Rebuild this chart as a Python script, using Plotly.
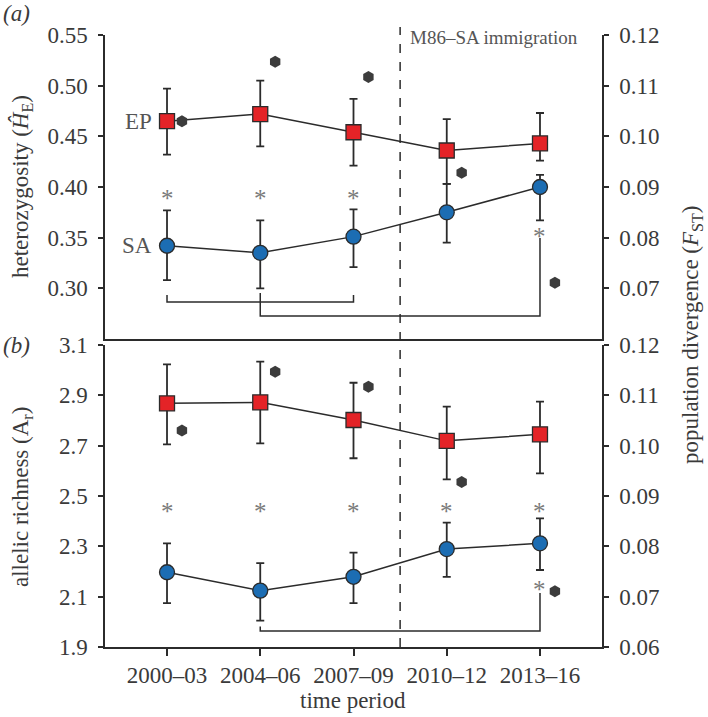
import plotly.graph_objects as go

periods = ["2000–03", "2004–06", "2007–09", "2010–12", "2013–16"]

# (a) heterozygosity
he_ep = [0.465, 0.472, 0.454, 0.436, 0.443]
he_ep_hi = [0.497, 0.505, 0.487, 0.467, 0.473]
he_ep_lo = [0.432, 0.440, 0.421, 0.403, 0.426]
he_sa = [0.342, 0.335, 0.351, 0.375, 0.400]
he_sa_hi = [0.377, 0.367, 0.378, 0.403, 0.412]
he_sa_lo = [0.308, 0.300, 0.321, 0.345, 0.367]

# (b) allelic richness
ar_ep = [2.868, 2.872, 2.802, 2.719, 2.745]
ar_ep_hi = [3.023, 3.034, 2.950, 2.855, 2.875]
ar_ep_lo = [2.705, 2.709, 2.650, 2.566, 2.590]
ar_sa = [2.197, 2.124, 2.179, 2.289, 2.312]
ar_sa_hi = [2.312, 2.233, 2.275, 2.394, 2.411]
ar_sa_lo = [2.074, 2.005, 2.074, 2.179, 2.206]

# population divergence (FST), same in both panels
fst = [0.1030, 0.1147, 0.1117, 0.0928, 0.0711]

# significance asterisks: (period index, y value)
stars_a = [(0, 0.394), (1, 0.394), (2, 0.394), (4, 0.356)]
stars_b = [(0, 2.458), (1, 2.458), (2, 2.458), (3, 2.458), (4, 2.458), (4, 2.150)]

# brackets: (start idx, end idx, y start-end, y bar, y end-end)
brackets_a = [(0, 2, 0.2934, 0.2865, 0.2934), (1, 4, 0.2954, 0.2727, 0.3497)]
brackets_b = [(1, 4, 1.981, 1.964, 2.115)]

immigration_x = 2.5
hex_offset = 0.16

FONT = "Liberation Serif, Times New Roman, serif"
RED = "#e42327"
BLUE = "#1c6db3"
DARK = "#2b2b2b"
TXT = "#3a3a3a"
FS = 23

xs = list(range(len(periods)))

def err(v, hi, lo):
    return ([h - x for h, x in zip(hi, v)], [x - l for l, x in zip(lo, v)])

fig = go.Figure()

def add_panel(xa, ya, ya2, ep, ep_hi, ep_lo, sa, sa_hi, sa_lo, brackets):
    for vals, hi, lo, sym, col in [(ep, ep_hi, ep_lo, "square", RED), (sa, sa_hi, sa_lo, "circle", BLUE)]:
        p, m = err(vals, hi, lo)
        fig.add_trace(go.Scatter(
            x=xs, y=vals, xaxis=xa, yaxis=ya, mode="lines+markers",
            line=dict(color=DARK, width=1.5),
            marker=dict(symbol=sym, size=15, color=col, line=dict(color=DARK, width=1.3)),
            error_y=dict(type="data", symmetric=False, array=p, arrayminus=m,
                         color=DARK, thickness=1.8, width=4),
            showlegend=False, cliponaxis=False))
    for (i0, i1, ys, yb, ye) in brackets:
        fig.add_trace(go.Scatter(
            x=[i0, i0, i1, i1], y=[ys, yb, yb, ye], xaxis=xa, yaxis=ya, mode="lines",
            line=dict(color=DARK, width=1.5), showlegend=False, hoverinfo="skip"))
    fig.add_trace(go.Scatter(
        x=[x + hex_offset for x in xs], y=fst, xaxis=xa, yaxis=ya2, mode="markers",
        marker=dict(symbol="hexagon", size=12, color="#3c3c3c"),
        showlegend=False))

add_panel("x", "y", "y2", he_ep, he_ep_hi, he_ep_lo, he_sa, he_sa_hi, he_sa_lo, brackets_a)
add_panel("x2", "y3", "y4", ar_ep, ar_ep_hi, ar_ep_lo, ar_sa, ar_sa_hi, ar_sa_lo, brackets_b)

xr = [-0.665, 4.665]
tickfont = dict(family=FONT, size=FS, color=TXT)
axline = dict(showline=True, linecolor=DARK, linewidth=1.5, showgrid=False, zeroline=False)

top_dom = [0.5033, 1.0]
bot_dom = [0.0, 0.4935]

fig.update_layout(
    width=708, height=717,
    margin=dict(l=105, r=106, t=35, b=70),
    paper_bgcolor="white", plot_bgcolor="white",
    font=dict(family=FONT, color=TXT),
    xaxis=dict(domain=[0, 1], range=xr, anchor="y", showticklabels=False, ticks="",
               tickvals=xs, **axline),
    xaxis2=dict(domain=[0, 1], range=xr, anchor="y3", tickvals=xs, ticktext=periods,
                ticks="outside", ticklen=7, tickwidth=1.5, tickcolor=DARK, tickfont=tickfont,
                **axline),
    yaxis=dict(domain=top_dom, range=[0.25, 0.55], anchor="x", tickvals=[0.30, 0.35, 0.40, 0.45, 0.50, 0.55],
               tickformat=".2f", ticks="outside", ticklen=5, tickwidth=1.5, tickcolor=DARK,
               tickfont=tickfont, ticklabelstandoff=6, **axline),
    yaxis2=dict(domain=top_dom, range=[0.06, 0.12], anchor="x", overlaying="y", side="right",
                tickvals=[0.07, 0.08, 0.09, 0.10, 0.11, 0.12], tickformat=".2f",
                ticks="outside", ticklen=5, tickwidth=1.5, tickcolor=DARK,
                tickfont=tickfont, ticklabelstandoff=6, **axline),
    yaxis3=dict(domain=bot_dom, range=[1.9, 3.1], anchor="x2", tickvals=[1.9, 2.1, 2.3, 2.5, 2.7, 2.9, 3.1],
                tickformat=".1f", ticks="outside", ticklen=5, tickwidth=1.5, tickcolor=DARK,
                tickfont=tickfont, ticklabelstandoff=6, **axline),
    yaxis4=dict(domain=bot_dom, range=[0.06, 0.12], anchor="x2", overlaying="y3", side="right",
                tickvals=[0.06, 0.07, 0.08, 0.09, 0.10, 0.11, 0.12], tickformat=".2f",
                ticks="outside", ticklen=5, tickwidth=1.5, tickcolor=DARK,
                tickfont=tickfont, ticklabelstandoff=6, **axline),
)

# dashed immigration line across both panels
fig.add_shape(type="line", xref="x", yref="paper", x0=immigration_x, x1=immigration_x,
              y0=0, y1=1.013, line=dict(color=DARK, width=1.5, dash="dash"))

ann = []
ann.append(dict(x=immigration_x, y=0.9967, xref="x", yref="paper", text="M86–SA immigration",
                xanchor="left", yanchor="middle", xshift=8, showarrow=False,
                font=dict(family=FONT, size=19, color="#555555")))
for (i, y) in stars_a:
    ann.append(dict(x=i, y=y, xref="x", yref="y", text="*", showarrow=False, yshift=-5,
                    font=dict(family=FONT, size=25, color="#7a7a7a")))
for (i, y) in stars_b:
    ann.append(dict(x=i, y=y, xref="x2", yref="y3", text="*", showarrow=False, yshift=-5,
                    font=dict(family=FONT, size=25, color="#7a7a7a")))
ann.append(dict(x=0, y=he_ep[0], xref="x", yref="y", text="EP", xanchor="right", xshift=-13,
                showarrow=False, font=dict(family=FONT, size=FS, color="#555555")))
ann.append(dict(x=0, y=he_sa[0], xref="x", yref="y", text="SA", xanchor="right", xshift=-13,
                showarrow=False, font=dict(family=FONT, size=FS, color="#555555")))

def px(xpix, ypix):
    return ((xpix - 105) / 497, (647 - ypix) / 612)

for text, (xp, yp), ang in [
    ("<i>(a)</i>", (16, 14), 0),
    ("<i>(b)</i>", (16, 345), 0),
    ("heterozygosity (<i>Ĥ</i><sub>E</sub>)", (22, 187), -90),
    ("allelic richness (A<sub>r</sub>)", (22, 497), -90),
    ("population divergence (<i>F</i><sub>ST</sub>)", (692, 335), -90),
    ("time period", (353, 700), 0),
]:
    x, y = px(xp, yp)
    ann.append(dict(x=x, y=y, xref="paper", yref="paper", text=text, showarrow=False,
                    textangle=ang, xanchor="center", yanchor="middle",
                    font=dict(family=FONT, size=FS, color=TXT)))
fig.update_layout(annotations=ann)

fig.write_html("out.html", config={"displayModeBar": False},
               post_script="document.body.style.margin='0px';")
